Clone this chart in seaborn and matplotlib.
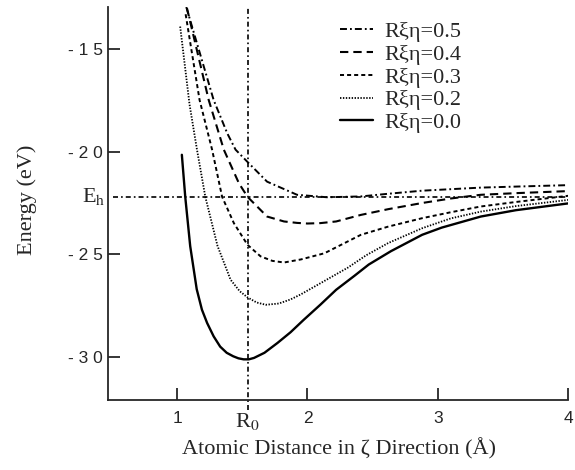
import matplotlib
matplotlib.use("Agg")
import matplotlib.pyplot as plt
import pandas as pd
import seaborn as sns

# Reference positions
r0 = 1.54
e_h = -22.2

# Energy curves (x in Angstrom, energy in eV)
x_05 = [1.07, 1.28, 1.384, 1.448, 1.54, 1.69, 1.92, 2.15, 2.41, 2.62, 2.88, 3.33, 3.60, 4.0]
e_05 = [-12.95, -17.48, -19.1, -19.9, -20.5, -21.46, -22.1, -22.22, -22.18, -22.05, -21.9, -21.75, -21.7, -21.63]

x_04 = [1.075, 1.242, 1.358, 1.474, 1.54, 1.69, 1.82, 1.92, 2.0, 2.10, 2.22, 2.41, 2.62, 2.88, 3.10, 3.33, 3.60, 4.0]
e_04 = [-13.0, -17.48, -19.9, -21.54, -22.2, -23.16, -23.4, -23.47, -23.5, -23.48, -23.4, -23.08, -22.8, -22.5, -22.28, -22.1, -22.02, -21.92]

x_03 = [1.065, 1.172, 1.268, 1.345, 1.435, 1.54, 1.64, 1.73, 1.82, 1.95, 2.13, 2.41, 2.62, 2.88, 3.10, 3.33, 3.60, 4.0]
e_03 = [-13.3, -17.48, -19.9, -22.2, -23.48, -24.54, -25.1, -25.32, -25.4, -25.25, -24.95, -24.05, -23.65, -23.24, -22.95, -22.67, -22.45, -22.15]

x_02 = [1.023, 1.095, 1.152, 1.216, 1.31, 1.41, 1.48, 1.54, 1.61, 1.68, 1.78, 1.87, 1.95, 2.13, 2.31, 2.45, 2.62, 2.88, 3.10, 3.33, 3.60, 4.0]
e_02 = [-13.9, -17.7, -19.9, -22.2, -24.6, -26.24, -26.8, -27.1, -27.35, -27.46, -27.4, -27.2, -26.95, -26.3, -25.65, -25.05, -24.45, -23.73, -23.25, -22.92, -22.65, -22.35]

x_00 = [1.036, 1.062, 1.10, 1.15, 1.19, 1.23, 1.28, 1.33, 1.38, 1.43, 1.47, 1.51, 1.55, 1.59, 1.67, 1.77, 1.87, 1.97,
        2.10, 2.22, 2.36, 2.47, 2.64, 2.88, 3.03, 3.33, 3.60, 4.0]
e_00 = [-20.15, -22.2, -24.6, -26.7, -27.7, -28.35, -29.0, -29.5, -29.8, -29.97, -30.07, -30.12, -30.12, -30.05, -29.8, -29.32, -28.8, -28.2,
        -27.45, -26.73, -26.05, -25.5, -24.85, -24.05, -23.7, -23.16, -22.85, -22.52]

labels = ["R\u03be\u03b7=0.5", "R\u03be\u03b7=0.4", "R\u03be\u03b7=0.3", "R\u03be\u03b7=0.2", "R\u03be\u03b7=0.0"]
xs = [x_05, x_04, x_03, x_02, x_00]
es = [e_05, e_04, e_03, e_02, e_00]

y_ticks = [-15, -20, -25, -30]
x_ticks = [1, r0, 2, 3, 4]
x_ticklabels = ["1", "R$_\\mathrm{0}$", "2", "3", "4"]

frames = []
for lab, x, e in zip(labels, xs, es):
    frames.append(pd.DataFrame({"x": x, "energy": e, "curve": lab}))
df = pd.concat(frames, ignore_index=True)

sns.set_style("ticks")
plt.rcParams["font.family"] = ["Liberation Serif", "DejaVu Serif"]
plt.rcParams["mathtext.fontset"] = "stix"
plt.rcParams["lines.scale_dashes"] = False

styles = {
    labels[0]: dict(linestyle=(0, (5, 2.2, 1.3, 2.2)), linewidth=1.4),
    labels[1]: dict(linestyle=(0, (6, 3.6)), linewidth=1.5),
    labels[2]: dict(linestyle=(0, (2.9, 2.2)), linewidth=1.4),
    labels[3]: dict(linestyle=(0, (1.0, 1.1)), linewidth=1.3),
    labels[4]: dict(linestyle="-", linewidth=1.7),
}

fig = plt.figure(figsize=(5.75, 4.7), dpi=100)
ax = fig.add_axes([0.188, 0.149, 0.8, 0.836])

for lab in labels:
    sub = df[df["curve"] == lab]
    sns.lineplot(data=sub, x="x", y="energy", ax=ax, color="black", label=lab,
                 estimator=None, legend=False, **styles[lab])

# reference lines at E_h and R0
ax.axhline(e_h, xmin=0.01, xmax=1, color="black", linewidth=1.2,
           linestyle=(0, (3.6, 2.2, 1.2, 2.2)))
ax.axvline(r0, ymin=-0.025, ymax=1, color="black", linewidth=1.2,
           linestyle=(0, (3.6, 2.2, 1.2, 2.2)), clip_on=False)

ax.set_xlim(0.47, 4.0)
ax.set_ylim(-32.1, -12.95)
sns.despine(ax=ax)
for sp in ["left", "bottom"]:
    ax.spines[sp].set_linewidth(1.3)

ax.set_xticks(x_ticks)
ax.set_xticklabels(x_ticklabels)
ax.set_yticks(y_ticks)
ax.set_yticklabels([" ".join(str(v)) for v in y_ticks])
ax.tick_params(direction="in", length=8.5, width=1.1, color="black")
ax.tick_params(axis="x", pad=8)
ax.tick_params(axis="y", pad=4)
for t in ax.get_xticklabels() + ax.get_yticklabels():
    t.set_fontfamily("Liberation Sans")
    t.set_fontsize(12.5)
ax.get_xticklabels()[1].set_fontfamily("Liberation Serif")
ax.get_xticklabels()[1].set_fontsize(16)
ax.xaxis.get_major_ticks()[1].tick1line.set_visible(False)

ax.text(-0.006, e_h, "E$_\\mathrm{h}$", transform=ax.get_yaxis_transform(),
        ha="right", va="center", fontsize=16)

ax.set_xlabel("Atomic Distance in \u03b6 Direction (\u00c5)", fontsize=16)
ax.set_ylabel("Energy (eV)", fontsize=16)
ax.xaxis.set_label_coords(0.502, -0.098)
ax.yaxis.set_label_coords(-0.155, 0.51)

handles, labs = ax.get_legend_handles_labels()
ax.legend(handles, labs, loc="upper left", bbox_to_anchor=(0.505, 0.963), frameon=False,
          fontsize=16, handlelength=1.45, handletextpad=0.55, labelspacing=0.1,
          borderpad=0, borderaxespad=0)

fig.savefig("out.png", dpi=100)
